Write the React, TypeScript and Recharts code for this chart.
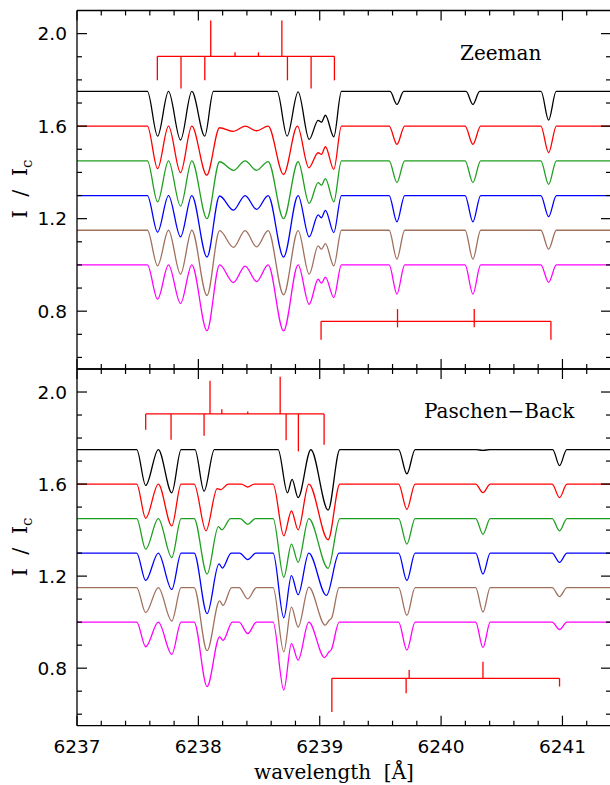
import React from 'react';
import { LineChart, Line, XAxis, YAxis, ReferenceLine } from 'recharts';

type Pt = [number, number];
type Tick3 = [number, number, number];

// axes
const xDomain = [6237, 6241.4];
const yDomain = [0.55, 2.1];
const xTicks = [6237, 6237.2, 6237.4, 6237.6, 6237.8, 6238, 6238.2, 6238.4, 6238.6, 6238.8, 6239, 6239.2, 6239.4, 6239.6, 6239.8, 6240, 6240.2, 6240.4, 6240.6, 6240.8, 6241, 6241.2, 6241.4];
const xMajorTicks = [6237, 6238, 6239, 6240, 6241];
const yTicks = [0.6, 0.7, 0.8, 0.9, 1.0, 1.1, 1.2, 1.3, 1.4, 1.5, 1.6, 1.7, 1.8, 1.9, 2.0];
const yMajorTicks = [0.8, 1.2, 1.6, 2.0];

const curveColors = ['#000000', '#ff0000', '#1f9f1f', '#0000ff', '#a0705e', '#ff00ff'];

// Zeeman panel (wavelength, I/Ic)
const zeemanBlack: Pt[] = [[6237, 1.75], [6237.58, 1.75], [6237.664, 1.557], [6237.754, 1.75], [6237.853, 1.54], [6237.946, 1.75], [6238.053, 1.557], [6238.124, 1.75], [6238.649, 1.75], [6238.731, 1.557], [6238.822, 1.748], [6238.913, 1.543], [6238.987, 1.625], [6239.014, 1.617], [6239.047, 1.647], [6239.116, 1.554], [6239.179, 1.75], [6239.58, 1.75], [6239.636, 1.694], [6239.692, 1.75], [6240.206, 1.75], [6240.262, 1.694], [6240.318, 1.75], [6240.824, 1.75], [6240.886, 1.626], [6240.948, 1.75], [6241.4, 1.75]];
const zeemanRed: Pt[] = [[6237, 1.6], [6237.58, 1.6], [6237.664, 1.416], [6237.754, 1.6], [6237.853, 1.399], [6237.946, 1.6], [6238.069, 1.388], [6238.175, 1.593], [6238.289, 1.577], [6238.385, 1.6], [6238.48, 1.58], [6238.575, 1.6], [6238.702, 1.391], [6238.816, 1.6], [6238.91, 1.42], [6238.987, 1.485], [6239.014, 1.478], [6239.047, 1.511], [6239.116, 1.413], [6239.179, 1.6], [6239.572, 1.6], [6239.636, 1.521], [6239.7, 1.6], [6240.198, 1.6], [6240.262, 1.521], [6240.326, 1.6], [6240.822, 1.6], [6240.886, 1.485], [6240.95, 1.6], [6241.4, 1.6]];
const zeemanGreen: Pt[] = [[6237, 1.45], [6237.58, 1.45], [6237.664, 1.273], [6237.754, 1.45], [6237.853, 1.254], [6237.946, 1.45], [6238.071, 1.2], [6238.175, 1.446], [6238.289, 1.409], [6238.385, 1.45], [6238.48, 1.409], [6238.575, 1.447], [6238.702, 1.2], [6238.822, 1.446], [6238.913, 1.266], [6238.987, 1.356], [6239.014, 1.345], [6239.047, 1.373], [6239.116, 1.273], [6239.179, 1.45], [6239.572, 1.45], [6239.636, 1.356], [6239.7, 1.45], [6240.198, 1.45], [6240.262, 1.356], [6240.326, 1.45], [6240.822, 1.45], [6240.886, 1.348], [6240.95, 1.45], [6241.4, 1.45]];
const zeemanBlue: Pt[] = [[6237, 1.3], [6237.58, 1.3], [6237.664, 1.142], [6237.754, 1.3], [6237.853, 1.121], [6237.946, 1.3], [6238.071, 1.034], [6238.175, 1.298], [6238.289, 1.237], [6238.385, 1.3], [6238.48, 1.24], [6238.575, 1.3], [6238.702, 1.034], [6238.822, 1.3], [6238.913, 1.121], [6238.987, 1.216], [6239.014, 1.204], [6239.047, 1.236], [6239.116, 1.14], [6239.179, 1.3], [6239.572, 1.3], [6239.636, 1.186], [6239.7, 1.3], [6240.198, 1.3], [6240.262, 1.186], [6240.326, 1.3], [6240.822, 1.3], [6240.886, 1.209], [6240.95, 1.3], [6241.4, 1.3]];
const zeemanBrown: Pt[] = [[6237, 1.15], [6237.58, 1.15], [6237.664, 0.996], [6237.754, 1.15], [6237.853, 0.96], [6237.946, 1.15], [6238.071, 0.868], [6238.175, 1.148], [6238.289, 1.076], [6238.385, 1.148], [6238.48, 1.078], [6238.575, 1.148], [6238.702, 0.871], [6238.822, 1.148], [6238.913, 0.96], [6238.987, 1.082], [6239.014, 1.068], [6239.047, 1.092], [6239.116, 0.996], [6239.179, 1.15], [6239.572, 1.15], [6239.636, 1.025], [6239.7, 1.15], [6240.198, 1.15], [6240.262, 1.025], [6240.326, 1.15], [6240.822, 1.15], [6240.886, 1.068], [6240.95, 1.15], [6241.4, 1.15]];
const zeemanMagenta: Pt[] = [[6237, 1], [6237.58, 1], [6237.664, 0.852], [6237.754, 1], [6237.853, 0.833], [6237.946, 1], [6238.071, 0.716], [6238.175, 1], [6238.289, 0.924], [6238.385, 0.995], [6238.48, 0.928], [6238.575, 1], [6238.702, 0.715], [6238.822, 1], [6238.913, 0.83], [6238.987, 0.938], [6239.014, 0.921], [6239.047, 0.947], [6239.116, 0.859], [6239.179, 1], [6239.572, 1], [6239.636, 0.874], [6239.7, 1], [6240.198, 1], [6240.262, 0.874], [6240.326, 1], [6240.822, 1], [6240.886, 0.925], [6240.95, 1], [6241.4, 1]];

// Paschen-Back panel
const pbBlack: Pt[] = [[6237, 1.75], [6237.492, 1.75], [6237.566, 1.594], [6237.67, 1.75], [6237.781, 1.562], [6237.858, 1.75], [6237.972, 1.75], [6238.047, 1.569], [6238.132, 1.75], [6238.657, 1.75], [6238.734, 1.562], [6238.772, 1.62], [6238.822, 1.541], [6238.927, 1.749], [6239.069, 1.487], [6239.166, 1.75], [6239.65, 1.75], [6239.718, 1.644], [6239.786, 1.75], [6240.29, 1.75], [6240.345, 1.746], [6240.4, 1.75], [6240.92, 1.75], [6240.976, 1.68], [6241.035, 1.75], [6241.4, 1.75]];
const pbRed: Pt[] = [[6237, 1.6], [6237.492, 1.6], [6237.566, 1.451], [6237.67, 1.6], [6237.781, 1.418], [6237.858, 1.6], [6237.965, 1.6], [6238.063, 1.397], [6238.155, 1.58], [6238.185, 1.576], [6238.245, 1.6], [6238.355, 1.6], [6238.407, 1.587], [6238.46, 1.6], [6238.616, 1.6], [6238.704, 1.375], [6238.767, 1.483], [6238.822, 1.401], [6238.91, 1.6], [6239.069, 1.358], [6239.166, 1.6], [6239.65, 1.6], [6239.718, 1.49], [6239.786, 1.6], [6240.285, 1.6], [6240.345, 1.563], [6240.405, 1.6], [6240.915, 1.6], [6240.976, 1.541], [6241.037, 1.6], [6241.4, 1.6]];
const pbGreen: Pt[] = [[6237, 1.45], [6237.492, 1.45], [6237.566, 1.317], [6237.67, 1.45], [6237.781, 1.281], [6237.858, 1.45], [6237.965, 1.45], [6238.072, 1.209], [6238.165, 1.415], [6238.193, 1.401], [6238.266, 1.45], [6238.345, 1.45], [6238.407, 1.425], [6238.469, 1.45], [6238.616, 1.45], [6238.704, 1.195], [6238.767, 1.339], [6238.822, 1.26], [6238.91, 1.45], [6239.069, 1.234], [6239.166, 1.45], [6239.65, 1.45], [6239.718, 1.339], [6239.786, 1.45], [6240.285, 1.45], [6240.345, 1.382], [6240.405, 1.45], [6240.915, 1.45], [6240.976, 1.397], [6241.037, 1.45], [6241.4, 1.45]];
const pbBlue: Pt[] = [[6237, 1.3], [6237.492, 1.3], [6237.566, 1.181], [6237.67, 1.3], [6237.781, 1.142], [6237.858, 1.3], [6237.965, 1.3], [6238.072, 1.037], [6238.17, 1.253], [6238.198, 1.235], [6238.27, 1.3], [6238.34, 1.3], [6238.407, 1.272], [6238.474, 1.3], [6238.616, 1.3], [6238.704, 1.019], [6238.767, 1.202], [6238.822, 1.119], [6238.91, 1.3], [6239.055, 1.116], [6239.16, 1.3], [6239.65, 1.3], [6239.718, 1.181], [6239.786, 1.3], [6240.285, 1.3], [6240.345, 1.209], [6240.405, 1.3], [6240.915, 1.3], [6240.976, 1.26], [6241.037, 1.3], [6241.4, 1.3]];
const pbBrown: Pt[] = [[6237, 1.15], [6237.492, 1.15], [6237.566, 1.041], [6237.67, 1.15], [6237.781, 1.005], [6237.858, 1.15], [6237.965, 1.15], [6238.072, 0.876], [6238.175, 1.092], [6238.203, 1.073], [6238.275, 1.15], [6238.335, 1.15], [6238.407, 1.101], [6238.479, 1.15], [6238.616, 1.15], [6238.704, 0.871], [6238.767, 1.065], [6238.822, 0.979], [6238.91, 1.152], [6239.045, 0.987], [6239.078, 1.008], [6239.098, 1.018], [6239.16, 1.15], [6239.65, 1.15], [6239.718, 1.029], [6239.786, 1.15], [6240.285, 1.15], [6240.345, 1.044], [6240.405, 1.15], [6240.915, 1.15], [6240.976, 1.111], [6241.037, 1.15], [6241.4, 1.15]];
const pbMagenta: Pt[] = [[6237, 1], [6237.492, 1], [6237.566, 0.893], [6237.67, 1], [6237.781, 0.86], [6237.858, 1], [6237.965, 1], [6238.072, 0.72], [6238.175, 0.936], [6238.203, 0.921], [6238.28, 1], [6238.335, 1], [6238.407, 0.95], [6238.479, 1], [6238.616, 1], [6238.704, 0.705], [6238.767, 0.907], [6238.822, 0.835], [6238.91, 1], [6239.04, 0.846], [6239.075, 0.87], [6239.095, 0.88], [6239.16, 1], [6239.65, 1], [6239.718, 0.878], [6239.786, 1], [6240.285, 1], [6240.345, 0.889], [6240.405, 1], [6240.915, 1], [6240.976, 0.968], [6241.037, 1], [6241.4, 1]];

// component markers: bar = [from, to, level], ticks = [wavelength, y1, y2]
const zeemanUpperBar = [6237.662, 6239.121, 1.902];
const zeemanUpperTicks: Tick3[] = [[6237.662, 1.902, 1.798], [6237.857, 1.902, 1.763], [6238.053, 1.902, 1.798], [6238.102, 1.902, 2.057], [6238.302, 1.902, 1.919], [6238.495, 1.902, 1.919], [6238.688, 1.902, 2.057], [6238.734, 1.902, 1.798], [6238.929, 1.902, 1.763], [6239.121, 1.902, 1.798]];
const zeemanLowerBar = [6239.011, 6240.905, 0.756];
const zeemanLowerTicks: Tick3[] = [[6239.011, 0.756, 0.676], [6239.641, 0.809, 0.73], [6240.273, 0.809, 0.73], [6240.905, 0.756, 0.676]];
const pbUpperBar = [6237.566, 6239.036, 1.905];
const pbUpperTicks: Tick3[] = [[6237.566, 1.905, 1.836], [6237.775, 1.905, 1.793], [6238.047, 1.905, 1.81], [6238.096, 1.905, 2.049], [6238.193, 1.905, 1.925], [6238.407, 1.905, 1.915], [6238.674, 1.905, 2.066], [6238.723, 1.905, 1.79], [6238.824, 1.905, 1.742], [6239.036, 1.905, 1.771]];
const pbLowerBar = [6239.1, 6240.976, 0.756];
const pbLowerTicks: Tick3[] = [[6239.1, 0.756, 0.609], [6239.712, 0.756, 0.691], [6239.737, 0.756, 0.792], [6240.345, 0.756, 0.828], [6240.976, 0.756, 0.72]];

const tickFont = 'DejaVu Sans';
const labelFont = 'DejaVu Serif';
const axisLineStyle = { stroke: '#000', strokeWidth: 1.3 };

const toRows = (pts: Pt[]) => pts.map(([x, y]) => ({ x, y }));

// ticks drawn inward; dir = +1 down/right, -1 up/left
const XTick = ({ x, y, payload, dir, showLabel }: any) => {
    const major = xMajorTicks.includes(payload.value);
    const len = major ? 10 : 5;
    return (
        <g>
            <line x1={x} x2={x} y1={y} y2={y + dir * len} stroke="#000" strokeWidth={1.2} />
            {showLabel && major && (
                <text x={x} y={y + 27} textAnchor="middle" fontFamily={tickFont} fontSize={18.5} fill="#000">
                    {payload.value}
                </text>
            )}
        </g>
    );
};

const YTick = ({ x, y, payload, dir, showLabel }: any) => {
    const major = yMajorTicks.includes(payload.value);
    const len = major ? 10 : 5;
    return (
        <g>
            <line x1={x} x2={x + dir * len} y1={y} y2={y} stroke="#000" strokeWidth={1.2} />
            {showLabel && major && (
                <text x={x - 10} y={y} dy="0.36em" textAnchor="end" fontFamily={tickFont} fontSize={18.5} fill="#000">
                    {payload.value.toFixed(1)}
                </text>
            )}
        </g>
    );
};

// axes take 1px each, so margins are 1px smaller than the plot edges
const Panel = ({ series, bars, tickSets, height, margin, xLabels }: any) => (
    <LineChart width={620} height={height} margin={margin}>
        <XAxis xAxisId="b" type="number" dataKey="x" domain={xDomain} allowDataOverflow ticks={xTicks} interval={0}
            orientation="bottom" height={1} tickSize={0} tickMargin={0} tickLine={false} axisLine={axisLineStyle}
            tick={(p: any) => <XTick {...p} dir={-1} showLabel={xLabels} />} />
        <XAxis xAxisId="t" type="number" dataKey="x" domain={xDomain} allowDataOverflow ticks={xTicks} interval={0}
            orientation="top" height={1} tickSize={0} tickMargin={0} tickLine={false} axisLine={axisLineStyle}
            tick={(p: any) => <XTick {...p} dir={1} showLabel={false} />} />
        <YAxis yAxisId="l" type="number" domain={yDomain} allowDataOverflow ticks={yTicks} interval={0}
            width={1} tickSize={0} tickMargin={0} tickLine={false} axisLine={axisLineStyle}
            tick={(p: any) => <YTick {...p} dir={1} showLabel />} />
        <YAxis yAxisId="r" orientation="right" type="number" domain={yDomain} allowDataOverflow ticks={yTicks} interval={0}
            width={1} tickSize={0} tickMargin={0} tickLine={false} axisLine={axisLineStyle}
            tick={(p: any) => <YTick {...p} dir={-1} showLabel={false} />} />

        {bars.map((b: number[], i: number) => (
            <ReferenceLine key={`bar${i}`} xAxisId="b" yAxisId="l" ifOverflow="visible"
                segment={[{ x: b[0], y: b[2] }, { x: b[1], y: b[2] }]} stroke="#ff0000" strokeWidth={1.3} />
        ))}
        {tickSets.flat().map((t: Tick3, i: number) => (
            <ReferenceLine key={`tk${i}`} xAxisId="b" yAxisId="l" ifOverflow="visible"
                segment={[{ x: t[0], y: t[1] }, { x: t[0], y: t[2] }]} stroke="#ff0000" strokeWidth={1.3} />
        ))}

        {series.map((s: Pt[], i: number) => (
            <Line key={i} xAxisId="b" yAxisId="l" data={toRows(s)} dataKey="y" type="monotone"
                stroke={curveColors[i]} strokeWidth={1.3} dot={false} activeDot={false} isAnimationActive={false} />
        ))}
    </LineChart>
);

const App = () => {
    return (
        <div style={{ position: 'absolute', left: 0, top: 0, width: 610, height: 785, overflow: 'hidden', background: '#fff' }}>
            <div style={{ position: 'absolute', left: 0, top: 0 }}>
                <Panel
                    series={[zeemanBlack, zeemanRed, zeemanGreen, zeemanBlue, zeemanBrown, zeemanMagenta]}
                    bars={[zeemanUpperBar, zeemanLowerBar]}
                    tickSets={[zeemanUpperTicks, zeemanLowerTicks]}
                    height={380}
                    margin={{ top: 9.5, right: 8, bottom: 10, left: 76 }}
                    xLabels={false}
                />
            </div>
            <div style={{ position: 'absolute', left: 0, top: 360 }}>
                <Panel
                    series={[pbBlack, pbRed, pbGreen, pbBlue, pbBrown, pbMagenta]}
                    bars={[pbUpperBar, pbLowerBar]}
                    tickSets={[pbUpperTicks, pbLowerTicks]}
                    height={425}
                    margin={{ top: 8, right: 8, bottom: 58.3, left: 76 }}
                    xLabels
                />
            </div>
            <svg width={610} height={785} style={{ position: 'absolute', left: 0, top: 0, pointerEvents: 'none' }}>
                <text x={460} y={60} fontFamily={labelFont} fontSize={20} fill="#000">Zeeman</text>
                <text x={424} y={418} fontFamily={labelFont} fontSize={20} fill="#000">Paschen−Back</text>
                <text x={334} y={779} textAnchor="middle" fontFamily={labelFont} fontSize={20} fill="#000" style={{ whiteSpace: 'pre' }}>
                    wavelength  [Å]
                </text>
                <text transform="translate(27,189) rotate(-90)" textAnchor="middle" fontFamily={labelFont} fontSize={21} fill="#000" style={{ whiteSpace: 'pre' }}>
                    I  /  I<tspan dy={5} fontSize={15}>c</tspan>
                </text>
                <text transform="translate(27,547) rotate(-90)" textAnchor="middle" fontFamily={labelFont} fontSize={21} fill="#000" style={{ whiteSpace: 'pre' }}>
                    I  /  I<tspan dy={5} fontSize={15}>c</tspan>
                </text>
            </svg>
        </div>
    );
};

export default App;
